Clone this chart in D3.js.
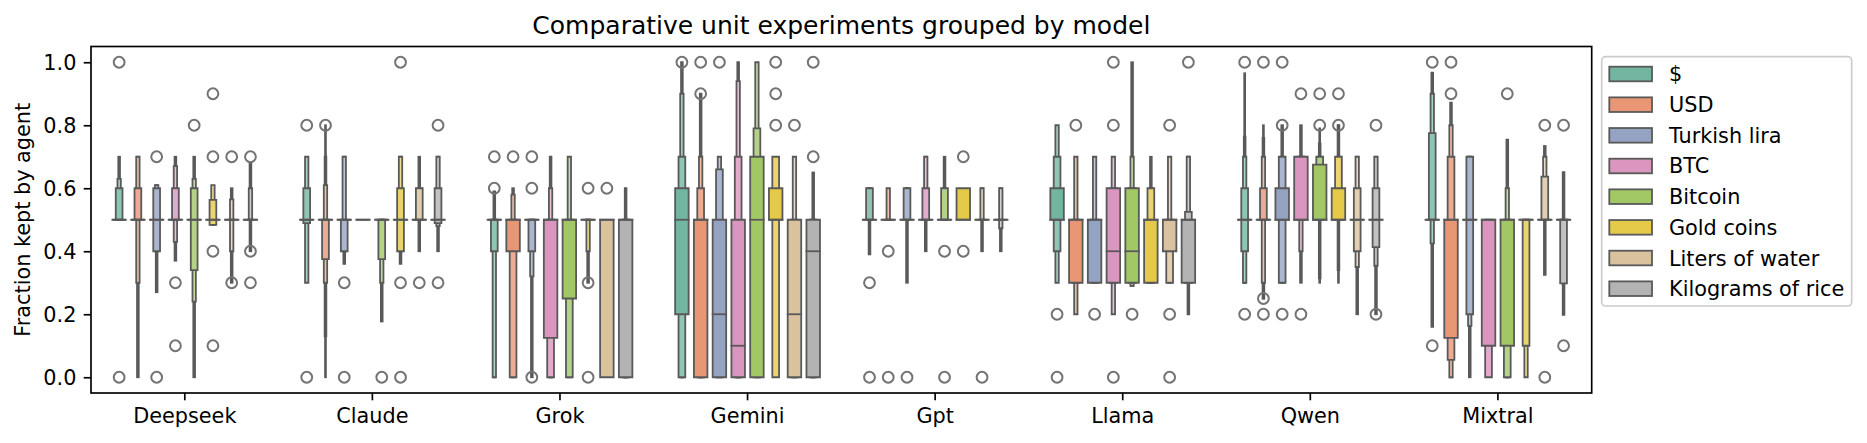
<!DOCTYPE html>
<html><head><meta charset="utf-8">
<script src="https://cdn.jsdelivr.net/npm/d3@7/dist/d3.min.js"></script>
<style>body{margin:0;background:#fff} svg{display:block} text{font-family:"DejaVu Sans",sans-serif;fill:#000}</style>
</head><body><div id="chart"></div>
<script>
// ---------------- data ----------------
const models = ["Deepseek","Claude","Grok","Gemini","Gpt","Llama","Qwen","Mixtral"];
const units = ["$","USD","Turkish lira","BTC","Bitcoin","Gold coins","Liters of water","Kilograms of rice"];
const palette = ["#66c2a5","#fc8d62","#8da0cb","#e78ac3","#a6d854","#ffd92f","#e5c494","#b3b3b3"];
const yTicks = [0, 0.2, 0.4, 0.6, 0.8, 1.0];
const title = "Comparative unit experiments grouped by model";
const yLabel = "Fraction kept by agent";

// each entry: m = median, lv = letter-value boxes [low, high] from depth 1 outward, out = outliers
const deepseek = [
  {m:.5, lv:[[.5,.5],[.5,.6],[.5,.63],[.5,.7]], out:[1.0,0]},
  {m:.5, lv:[[.5,.5],[.5,.6],[.3,.7],[0,.7]], out:[]},
  {m:.5, lv:[[.5,.5],[.4,.6],[.4,.61],[.27,.61]], out:[.7,0]},
  {m:.5, lv:[[.5,.5],[.5,.6],[.43,.67],[.37,.7]], out:[.3,.1]},
  {m:.5, lv:[[.5,.5],[.34,.6],[.24,.63],[0,.7]], out:[.8]},
  {m:.5, lv:[[.5,.5],[.484,.563],[.484,.61]], out:[.9,.7,.4,.1]},
  {m:.5, lv:[[.5,.5],[.5,.5],[.4,.565],[.3,.6]], out:[.7,.3]},
  {m:.5, lv:[[.5,.5],[.5,.5],[.5,.6],[.4,.68]], out:[.7,.4,.3]}
];
const claude = [
  {m:.5, lv:[[.5,.5],[.489,.6],[.3,.7]], out:[.8,0]},
  {m:.5, lv:[[.5,.5],[.375,.5],[.3,.61],[.13,.7],[0,.8]], out:[.8]},
  {m:.5, lv:[[.5,.5],[.4,.5],[.4,.7],[.36,.7]], out:[.3,0]},
  {m:.5, lv:[[.5,.5]], out:[]},
  {m:.5, lv:[[.5,.5],[.375,.5],[.3,.5],[.177,.5]], out:[0]},
  {m:.5, lv:[[.5,.5],[.4,.6],[.4,.7],[.36,.7]], out:[1.0,.3,0]},
  {m:.5, lv:[[.5,.5],[.5,.6],[.5,.6],[.4,.7]], out:[.3]},
  {m:.5, lv:[[.5,.5],[.489,.6],[.48,.7],[.4,.7]], out:[.8,.3]}
];
const grok = [
  {m:.5, lv:[[.5,.5],[.4,.5],[0,.5],[0,.59]], out:[.7,.6]},
  {m:.5, lv:[[.4,.5],[0,.5],[0,.58],[0,.6]], out:[.7]},
  {m:.5, lv:[[.5,.5],[.4,.5],[.32,.5],[0,.5]], out:[.7,.6,0]},
  {m:.5, lv:[[.125,.5],[0,.5],[0,.6],[0,.7]], out:[]},
  {m:.5, lv:[[.25,.5],[0,.5],[0,.7]], out:[]},
  {m:.5, lv:[[.5,.5],[.5,.5],[.4,.5],[.3,.5]], out:[.6,.3,0]},
  {m:.5, lv:[[0,.5]], out:[.6]},
  {m:.5, lv:[[0,.5],[0,.5],[0,.5],[0,.6]], out:[]}
];
const gemini = [
  {m:.5, lv:[[.2,.6],[0,.7],[0,.9],[0,1.0]], out:[1.0]},
  {m:.5, lv:[[0,.5],[0,.6],[0,.7],[0,.9]], out:[.9,1.0]},
  {m:.2, lv:[[0,.5],[0,.66],[0,.7]], out:[1.0]},
  {m:.1, lv:[[0,.5],[0,.7],[0,.94],[0,1.0]], out:[]},
  {m:.5, lv:[[0,.7],[0,.79],[0,1.0]], out:[]},
  {m:.5, lv:[[.5,.6],[0,.7]], out:[.8,.9,1.0]},
  {m:.2, lv:[[0,.5],[0,.5],[0,.7]], out:[.8]},
  {m:.4, lv:[[0,.5],[0,.5],[0,.5],[0,.65]], out:[.7,1.0]}
];
const gpt = [
  {m:.5, lv:[[.5,.5],[.5,.6],[.5,.6],[.39,.6]], out:[.3,0]},
  {m:.5, lv:[[.5,.5],[.5,.5],[.5,.6]], out:[.4,0]},
  {m:.5, lv:[[.5,.5],[.5,.6],[.5,.6],[.3,.6]], out:[0]},
  {m:.5, lv:[[.5,.5],[.5,.6],[.5,.7],[.4,.7]], out:[]},
  {m:.5, lv:[[.5,.5],[.5,.6],[.5,.6],[.5,.7]], out:[.4,0]},
  {m:.5, lv:[[.5,.6]], out:[.7,.4]},
  {m:.5, lv:[[.5,.5],[.5,.5],[.5,.6],[.4,.6]], out:[0]},
  {m:.5, lv:[[.5,.5],[.5,.5],[.473,.6],[.4,.6]], out:[]}
];
const llama = [
  {m:.5, lv:[[.5,.6],[.4,.7],[.3,.8]], out:[.2,0]},
  {m:.5, lv:[[.3,.5],[.3,.5],[.2,.7]], out:[.8]},
  {m:.5, lv:[[.3,.5],[.3,.5],[.3,.7]], out:[.2]},
  {m:.4, lv:[[.3,.6],[.3,.6],[.2,.7]], out:[1.0,.8,0]},
  {m:.4, lv:[[.3,.6],[.3,.6],[.29,.7],[.29,1.0]], out:[.2]},
  {m:.5, lv:[[.3,.5],[.3,.6],[.3,.6],[.3,.7]], out:[]},
  {m:.5, lv:[[.4,.5],[.3,.5],[.3,.7]], out:[.8,.2,0]},
  {m:.5, lv:[[.3,.5],[.3,.525],[.3,.7],[.2,.7]], out:[1.0]}
];
const qwen = [
  {m:.5, lv:[[.5,.5],[.4,.6],[.3,.7],[.3,.764],[.3,.965]], out:[1.0,.2]},
  {m:.5, lv:[[.5,.5],[.5,.6],[.3,.7],[.25,.76],[.25,.8]], out:[1.0,.25,.2]},
  {m:.5, lv:[[.5,.6],[.3,.7],[.3,.7],[.3,.8]], out:[1.0,.8,.2]},
  {m:.5, lv:[[.5,.7],[.5,.7],[.4,.7],[.3,.8]], out:[.9,.2]},
  {m:.5, lv:[[.5,.675],[.5,.7],[.5,.7],[.314,.742],[.3,.79]], out:[.9,.8]},
  {m:.5, lv:[[.5,.6],[.5,.7],[.5,.7],[.34,.8],[.3,.8]], out:[.9,.8]},
  {m:.5, lv:[[.5,.5],[.4,.6],[.35,.7],[.2,.7]], out:[]},
  {m:.5, lv:[[.5,.5],[.413,.6],[.354,.7],[.2,.7]], out:[.8,.2]}
];
const mixtral = [
  {m:.5, lv:[[.5,.5],[.5,.775],[.425,.9],[.16,.967]], out:[1.0,.1]},
  {m:.5, lv:[[.125,.5],[.055,.7],[0,.8],[0,.872]], out:[1.0,.9]},
  {m:.5, lv:[[.5,.5],[.2,.7],[.163,.7],[0,.7]], out:[]},
  {m:.5, lv:[[.1,.5],[0,.5]], out:[]},
  {m:.5, lv:[[.1,.5],[0,.5],[0,.6],[0,.754]], out:[.9]},
  {m:.5, lv:[[.5,.5],[.1,.5],[0,.5]], out:[]},
  {m:.5, lv:[[.5,.5],[.5,.637],[.5,.7],[.325,.734]], out:[.8,0]},
  {m:.5, lv:[[.5,.5],[.298,.5],[.298,.5],[.198,.651]], out:[.8,.1]}
];
const seriesByModel = [deepseek, claude, grok, gemini, gpt, llama, qwen, mixtral];

// ---------------- layout ----------------
const W = 1867, H = 443;
const ax = {left: 91, right: 1591.7, top: 46.5, bottom: 393};
const FS = 20.8;
const lineGray = "#595959", flierGray = "#737373";
const LW = 1.8;

const colors = palette.map(c => { const h = d3.hsl(c); h.s *= 0.75; return h.formatHex(); });

const svg = d3.select("#chart").append("svg").attr("width", W).attr("height", H);

const x = d3.scaleBand().domain(models).range([ax.left, ax.right]).padding(0);
const hue = d3.scaleBand().domain(units).range([-0.4 * x.bandwidth(), 0.4 * x.bandwidth()]).padding(0);
const y = d3.scaleLinear().domain([-0.05, 1.05]).range([ax.bottom, ax.top]);
const boxW = hue.bandwidth() * 0.72;

const plot = svg.append("g");

models.forEach((model, mi) => {
  const series = seriesByModel[mi];
  units.forEach((u, ui) => {
    const d = series[ui];
    const cx = x(model) + x.bandwidth() / 2 + hue(u) + hue.bandwidth() / 2;
    const g = plot.append("g");
    // deepest (narrowest) boxes first, widest last
    const boxes = d.lv.map((b, k) => ({lo: b[0], hi: b[1], k}));
    boxes.slice().reverse().forEach(b => {
      const w = boxW * Math.pow(2, -b.k);
      const col = d3.interpolateRgb(colors[ui], "#ffffff")(Math.min(0.2 * b.k, 0.7));
      const p = d3.path();
      const y0 = y(b.hi), y1 = y(b.lo);
      p.moveTo(cx - w / 2, y0); p.lineTo(cx + w / 2, y0); p.lineTo(cx + w / 2, y1); p.lineTo(cx - w / 2, y1); p.closePath();
      g.append("path").attr("d", p.toString()).attr("fill", col)
        .attr("stroke", lineGray).attr("stroke-width", LW).attr("stroke-linejoin", "miter");
    });
    // median
    g.append("line").attr("x1", cx - boxW / 2 - LW / 2).attr("x2", cx + boxW / 2 + LW / 2)
      .attr("y1", y(d.m)).attr("y2", y(d.m)).attr("stroke", lineGray).attr("stroke-width", LW);
    // outliers
    g.selectAll("circle").data(d.out).join("circle")
      .attr("cx", cx).attr("cy", v => y(v)).attr("r", 5.4)
      .attr("fill", "none").attr("stroke", flierGray).attr("stroke-width", 2);
  });
});

// ---------------- axes ----------------
const yAxis = d3.axisLeft(y).tickValues(yTicks).tickFormat(d3.format(".1f")).tickSize(7.3).tickPadding(7.3);
const gy = svg.append("g").attr("transform", `translate(${ax.left},0)`).call(yAxis);
const xAxis = d3.axisBottom(x).tickSize(7.3).tickPadding(7.3);
const gx = svg.append("g").attr("transform", `translate(0,${ax.bottom})`).call(xAxis);
[gx, gy].forEach(g => {
  g.select(".domain").remove();
  g.selectAll(".tick line").attr("stroke", "#000").attr("stroke-width", 1.67);
  g.selectAll(".tick text").attr("font-size", FS).attr("font-family", "DejaVu Sans").attr("fill", "#000");
});
gx.selectAll(".tick text").attr("dy", "0.76em");
gy.selectAll(".tick text").attr("dy", "0.36em");

// spines
svg.append("rect").attr("x", ax.left).attr("y", ax.top)
  .attr("width", ax.right - ax.left).attr("height", ax.bottom - ax.top)
  .attr("fill", "none").attr("stroke", "#000").attr("stroke-width", 1.67);

// title & ylabel
svg.append("text").attr("x", (ax.left + ax.right) / 2).attr("y", 34)
  .attr("text-anchor", "middle").attr("font-size", 25).text(title);
svg.append("text").attr("transform", `translate(30,${(ax.top + ax.bottom) / 2}) rotate(-90)`)
  .attr("text-anchor", "middle").attr("font-size", FS).text(yLabel);

// ---------------- legend ----------------
const lg = svg.append("g");
const lgX = 1601.7, lgY = 56.7, lgW = 250, pitch = 30.67, firstRow = 74;
lg.append("rect").attr("x", lgX).attr("y", lgY).attr("width", lgW)
  .attr("height", (firstRow - lgY) * 2 + pitch * (units.length - 1))
  .attr("rx", 4).attr("fill", "#fff").attr("fill-opacity", 0.8)
  .attr("stroke", "#cccccc").attr("stroke-width", 1.67);
units.forEach((u, i) => {
  const cy = firstRow + i * pitch;
  lg.append("rect").attr("x", 1609.3).attr("y", cy - 7.3).attr("width", 42.7).attr("height", 14.6)
    .attr("fill", colors[i]).attr("stroke", lineGray).attr("stroke-width", LW);
  lg.append("text").attr("x", 1669).attr("y", cy).attr("dy", "0.36em")
    .attr("font-size", FS).text(u);
});
</script>
</body></html>
